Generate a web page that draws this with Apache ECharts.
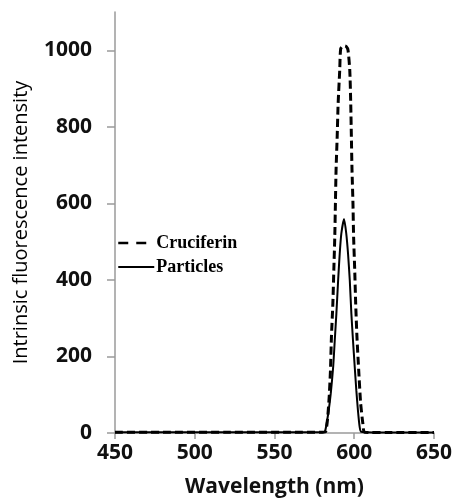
<!DOCTYPE html>
<html>
<head>
<meta charset="utf-8">
<script src="https://cdn.jsdelivr.net/npm/echarts@6/dist/echarts.min.js"></script>
<style>html,body{margin:0;padding:0;background:#fff}#c{width:455px;height:503px}</style>
</head>
<body>
<div id="c"></div>
<script>
// Data: [wavelength (nm), intensity]
const seriesNames = ['Cruciferin', 'Particles'];
const yTicks = [0, 200, 400, 600, 800, 1000];
const xTicks = [450, 500, 550, 600, 650];
const cruciferin = [
  [450,2],[480,2],[520,2],[560,2],[580,2],[582.0,3],[583.2,34],[584.3,95],[585.1,164],[585.7,251],
  [586.6,339],[587.2,426],[587.8,513],[588.2,600],[588.6,687],[589.3,774],[589.9,861],[590.9,948],
  [591.5,1004],[593.3,1012],[595.0,1010],[596.1,1000],[597.2,948],[597.8,861],[598.2,774],[598.6,687],
  [599.2,600],[599.6,513],[600.3,426],[600.9,339],[601.7,251],[602.8,164],[604.0,78],[605.4,25],
  [606.5,2],[620,1],[650,1]
];
const particles = [
  [450,2],[480,2],[520,2],[560,2],[580,2],[581.6,3],[583.7,51],[585.3,104],[586.8,173],[587.8,243],
  [588.8,312],[589.9,399],[590.9,469],[591.9,521],[593.6,559],[595.0,521],[596.1,469],[597.2,399],
  [598.2,312],[599.2,243],[600.3,173],[601.3,112],[602.3,60],[603.4,16],[604.4,3],[620,1],[650,1]
];

const chart = echarts.init(document.getElementById('c'));
const axisCol = '#9a9a9a';
chart.setOption({
  animation: false,
  grid: { left: 115, right: 18, top: 12, bottom: 70 },
  legend: {
    show: true, orient: 'vertical', left: 117, top: 234, itemWidth: 36, itemHeight: 14, itemGap: 6,
    padding: 0,
    itemStyle: { opacity: 0 },
    textStyle: { fontFamily: 'Liberation Serif', fontWeight: 'bold', fontSize: 18, color: '#000', padding: [0, 0, 0, -3] },
    data: [
      { name: seriesNames[0], lineStyle: { type: [10, 8], width: 2.5 } },
      { name: seriesNames[1], lineStyle: { width: 2 } }
    ]
  },
  xAxis: {
    type: 'value', min: 450, max: 650, interval: 50,
    axisLine: { lineStyle: { color: axisCol, width: 1.5 } },
    axisTick: { show: true, length: 6, lineStyle: { color: axisCol, width: 1.5 } },
    splitLine: { show: false },
    axisLabel: { margin: 10, fontFamily: 'Open Sans', fontWeight: 'bold', fontSize: 21, color: '#111',
      customValues: xTicks },
    name: 'Wavelength (nm)', nameLocation: 'middle', nameGap: 44,
    nameTextStyle: { fontFamily: 'Open Sans', fontWeight: 'bold', fontSize: 21, color: '#111' }
  },
  yAxis: {
    type: 'value', min: 0, max: 1100, interval: 100,
    axisLine: { show: true, lineStyle: { color: axisCol, width: 1.5 } },
    axisTick: { show: true, length: 8, lineStyle: { color: axisCol, width: 1.5 }, customValues: yTicks },
    splitLine: { show: false },
    axisLabel: { margin: 23, fontFamily: 'Open Sans', fontWeight: 'bold', fontSize: 21, color: '#111',
      customValues: yTicks, formatter: function (v) { return String(v); } },
    name: 'Intrinsic fluorescence intensity', nameLocation: 'middle', nameGap: 84, nameRotate: 90,
    nameTextStyle: { fontFamily: 'Open Sans', fontSize: 20, color: '#000' }
  },
  series: [
    { name: seriesNames[0], type: 'line', data: cruciferin, symbol: 'none', smooth: 0.2,
      lineStyle: { color: '#000', width: 3, type: [8, 4] }, itemStyle: { color: '#000' } },
    { name: seriesNames[1], type: 'line', data: particles, symbol: 'none', smooth: 0.2,
      lineStyle: { color: '#000', width: 2 }, itemStyle: { color: '#000' } }
  ]
});
</script>
</body>
</html>
